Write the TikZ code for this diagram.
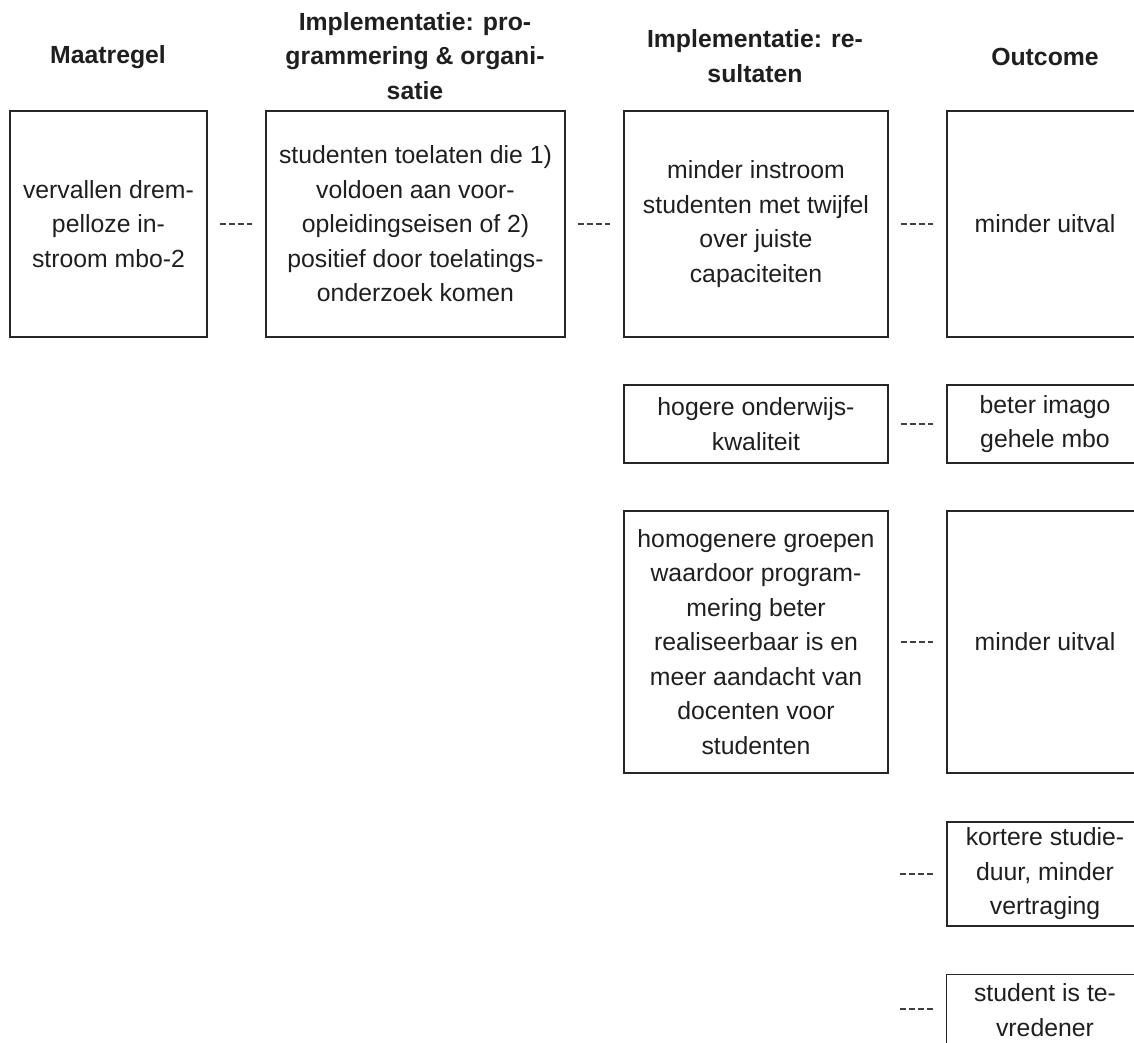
\documentclass[tikz,border=0pt]{standalone}
\usepackage{fontspec}
\setmainfont{Liberation Sans}
\newcommand\mybodyfont{\fontsize{24.8}{34.5}\selectfont}
\newcommand\myhdrfont{\fontsize{24.8}{34.5}\selectfont\bfseries}
\begin{document}
\begin{tikzpicture}[x=1pt,y=1pt,
  box/.style={draw=black!85, line width=1.3pt, align=center, inner sep=0pt, font=\mybodyfont, text=black!88},
  boxline/.style={draw=black!85, line width=1.3pt},
  hdr/.style={align=center, inner sep=0pt, font=\myhdrfont, text=black!88},
  link/.style={draw=black!75, line width=1.6pt, dash pattern=on 6pt off 3pt, shorten <=12pt, shorten >=13pt}]
\useasboundingbox (0,0) rectangle (1134,-1042);
\clip (0,0) rectangle (1134,-1042);
% headers
\node[hdr] (h1) at (108,-57) {Maatregel};
\node[hdr] (h2) at (415,-56) {Implementatie: pro-\\grammering \& organi-\\satie};
\node[hdr] (h3) at (755,-56) {Implementatie: re-\\sultaten};
\node[hdr] (h4) at (1045,-57) {Outcome};
% row 1
\node[box, minimum width=197pt, minimum height=226pt] (A) at (108.5,-224) {vervallen drem-\\pelloze in-\\stroom mbo-2};
\node[box, minimum width=299pt, minimum height=226pt] (B) at (415.5,-224) {studenten toelaten die 1)\\voldoen aan voor-\\opleidingseisen of 2)\\positief door toelatings-\\onderzoek komen};
\node[box, minimum width=264pt, minimum height=226pt] (C) at (756,-224) {minder instroom\\studenten met twijfel\\over juiste\\capaciteiten};
\node[box, minimum width=196pt, minimum height=226pt] (D) at (1045,-224) {minder uitval};
% row 2
\node[box, minimum width=264pt, minimum height=78pt] (E) at (756,-424) {hogere onderwijs-\\kwaliteit};
\node[box, minimum width=196pt, minimum height=78pt] (F) at (1045,-424) {beter imago\\gehele mbo};
% row 3
\node[box, minimum width=264pt, minimum height=262pt] (G) at (756,-642) {homogenere groepen\\waardoor program-\\mering beter\\realiseerbaar is en\\meer aandacht van\\docenten voor\\studenten};
\node[box, minimum width=196pt, minimum height=262pt] (H) at (1045,-642) {minder uitval};
% row 4
\node[box, minimum width=196pt, minimum height=104pt] (I) at (1045,-874) {kortere studie-\\duur, minder\\vertraging};
% row 5 (box runs past the bottom edge)
\node[box, draw=none, minimum width=196pt, minimum height=70pt] (J) at (1045,-1010) {student is te-\\vredener};
\draw[boxline] ([yshift=-20pt]J.south west) -- (J.north west) -- ([xshift=20pt]J.north east);
\coordinate (i0) at (888,-874);
\coordinate (j0) at (888,-1009);
% connectors
\draw[link] (A.east) -- (B.west);
\draw[link] (B.east) -- (C.west);
\draw[link] (C.east) -- (D.west);
\draw[link] (E.east) -- (F.west);
\draw[link] (G.east) -- (H.west);
\draw[link] (i0) -- (I.west |- i0);
\draw[link] (j0) -- (J.west |- j0);
\end{tikzpicture}
\end{document}
